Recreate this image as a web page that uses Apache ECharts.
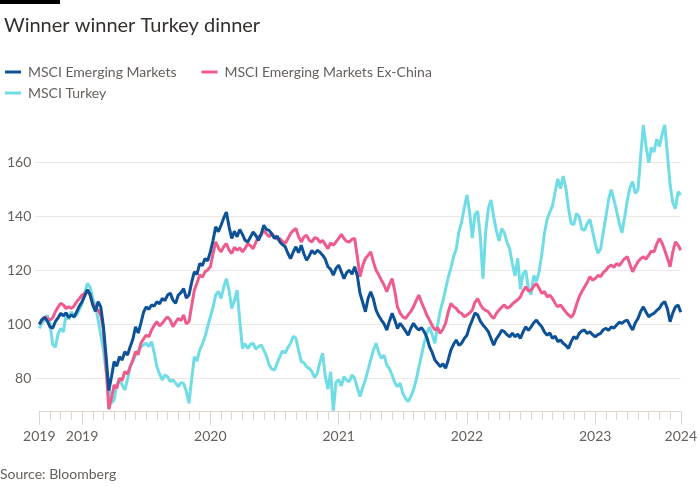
<!DOCTYPE html>
<html>
<head>
<meta charset="utf-8">
<script src="https://cdn.jsdelivr.net/npm/echarts@6/dist/echarts.min.js"></script>
<style>
html,body{margin:0;padding:0;background:#fff;}
#chart{width:700px;height:500px;}
</style>
</head>
<body>
<div id="chart"></div>
<script>
// x positions: months from the first observation, quarter-month steps
const STEP = 0.25;
const yearTickMonths = [0, 4, 16, 28, 40, 52, 60];
const yearTickLabels = ['2019', '2019', '2020', '2021', '2022', '2023', '2024'];
const yTicks = [80, 100, 120, 140, 160];

const emValues = [
100,101.8,102.6,101.2,99.1,98.6,101,102.4,104.1,103.2,104.3,102.6,103.5,102.8,104.7,106.8,108.4,110.6,112.9,111.2,
107.2,104.8,108.4,106.5,99.1,88,75.5,80.5,86.2,84.5,88,86.8,89.9,88.6,91.7,94.5,99.1,96.8,100.4,104.5,
106.5,105.6,107.2,106.8,108.4,107.6,109.6,108.8,110.9,111.6,109,107.8,110.9,111.8,113.3,109.8,110.9,115.6,119.5,118.6,
122.6,121.8,124.4,123.6,126.9,131.2,136.2,134.4,136.8,139.5,141.7,136.2,131.9,134.6,132.5,135.2,133.4,131.2,130.6,132.4,
134.3,133,131.2,133.5,136.8,135.2,134.9,133.5,131.9,132.8,130.6,129.6,128.8,126.4,124.4,126.8,128.8,126.6,129.4,126.2,
123.8,125.4,127.5,126.2,127.5,126.8,125.7,124.2,121.4,120.4,118.3,120.8,122,119.5,117,119.2,120.1,118.6,121.4,118,
111.5,108.2,104.7,109.6,112.1,109.4,105.3,103.2,101.6,100.2,97.9,101.2,104.1,101.6,98.5,100.4,99.1,97.6,96,98.6,
100.4,98.9,97.9,98.8,97.3,95.2,91.7,89.6,86.8,85.6,84.3,85.4,83.7,86.8,90.5,92.6,94.2,92.2,93,94.8,
96,99.2,101.6,104.2,103.5,101.2,99.8,98.6,97.3,94.8,92.3,94.6,96,97.8,97.3,96.2,95.4,96.8,95.4,96.4,
94.8,97.2,99.1,97.8,99.1,100.6,101.6,100.2,99.1,97.2,96,96.8,94.8,95.6,93.6,94.2,93,92.2,91.1,93.6,
95.4,94.6,96.7,97.6,97.9,96.6,97.3,96.2,95.4,96.2,96.7,98,98.5,97.8,99.1,98.6,99.8,100.8,100.4,101.2,
101.6,99.6,97.9,100.6,102.2,104.8,106.5,104.6,102.8,103.6,104.1,105.2,106,107.6,108.5,105.8,101,104.2,106.5,107.2,
104.5];

const emExChinaValues = [
100,101.6,102.8,102.2,101.6,102.4,104.7,106.4,107.8,107.2,105.9,106.6,105.9,106.8,108.4,109.6,110.9,111.4,112.7,110.8,
107.8,106.2,105.3,103.4,97.9,84,68.5,72.6,77.5,76.4,80,79.2,82.5,81.6,84.3,86.8,89.9,88.8,93,94.6,
96,95.4,97.9,99.6,101,99.4,100.4,101.8,102.8,101.6,99.1,100.8,102.2,101.4,103.5,100.2,101,106.8,112.7,115.4,
118.3,117.6,119.5,120.2,121.4,126.2,130.6,128.4,126.9,128.8,130,127.6,126.3,128.6,127.5,128.4,126.9,128.2,130,129.2,
128.1,130.4,132.5,133.2,134.9,133.6,132.5,133.8,132.5,131.6,131.9,130.8,130,131.8,133.7,134.8,135.6,132.6,130.6,132.4,
133.1,131.2,130.6,132.2,131.9,130.4,131.2,129.6,128.1,130.2,129.4,130.6,131.9,133.4,131.9,130.8,130.6,131.6,131.9,125,
117.7,121.8,124.4,125.6,126.9,123.2,120.1,118.4,116.4,114.6,112.1,114.8,117,112.4,106.5,104.2,102.8,102.2,103.5,104.8,
106.5,108.8,110.9,108.2,105.9,103.4,101.6,99.6,97.9,98.8,96.7,98.2,100.4,104.6,107.8,106.6,105.9,104.6,104.1,102.8,
103.5,104.2,105.3,108.2,109.6,107.4,105.9,105.2,104.7,103.2,102.2,104.1,105.3,106.4,107.2,106,106.5,107.6,108.4,109.2,
110.2,112.4,113.9,112.4,112.7,114.2,115.2,113.4,111.5,112.2,110.2,110.8,109.6,107.8,106.5,107.2,105.9,104.6,103.5,102.6,
104.1,107.4,110.2,112.2,113.9,115.6,117.7,116.4,117,118.2,117.7,119.2,120.1,121.4,122,121.2,122.6,121.8,123.2,124.4,
125.1,122.2,119.5,121.6,123.2,124.4,125.1,124.2,125.7,127.2,126.9,129.8,131.9,130.2,127.5,124.6,121.4,126.8,130.6,129.4,
127.5];

const turkeyValues = [
98.5,100.6,101.6,103.4,100.5,92.5,91.5,96.4,98.5,97.2,103.5,101.8,104.7,102.6,103.5,105.6,107.8,111.6,115.2,113.8,
109.6,106.8,101.6,96.2,90.5,82.4,76.9,70.8,72,77.6,80,77.4,75.7,79.6,84.3,86.4,88.6,90.2,91.7,92.4,
93,91.8,93.6,89.4,84.3,81.6,79.4,81.2,80.6,78.8,79.4,78.2,76.9,78.4,78.1,75.2,70.7,79.6,88,86.4,
90.5,92.6,95.4,99.2,102.8,106.4,110.9,112.2,109.6,113.8,117,112.6,105.9,108.8,112.7,101.4,91.1,92.8,91.1,92.6,
93,90.8,91.7,92.4,90.5,88.2,84.9,83.4,83.1,85.6,88,90.2,89.3,91.4,93,95.6,94.8,90.4,86.2,85.8,
84.3,83.6,82.5,80.2,81.9,86,89.3,80.6,76,82.4,68,78.6,79.4,77.2,80.6,79.2,78.8,81.2,80,76.4,
73.2,76.6,79.4,83.2,86.8,90.4,93,89.6,87.4,88.6,84.9,83.6,81.2,78.4,76.9,78.2,74.4,72.6,71.4,73.2,
75.7,79.4,84,88.6,93,96.8,99,96.2,93,99.6,105,108.6,113,117.4,121,125.2,128,134.4,138,143.2,
148,141.6,132,140.8,142,132.6,117,134.2,143,146.2,140,134.8,131,135.6,134,130.4,128,122.4,118,124.6,
113,118.8,120,113.4,111,118.2,116,119.6,126,133.8,139,141.6,144,149.2,154,150.4,155,150.6,143,137.4,
137,141.2,140,135.2,135,137.4,139,134.6,130,126.4,128,134.2,140,146.4,150,146.2,142,137.6,134,139.8,
146,150.8,153,148.6,150,162.4,174,166.2,160,165.6,164,168.8,166,170.4,174,163.2,152,145.2,143,149.2,
148];

const seriesNames = ['MSCI Emerging Markets', 'MSCI Emerging Markets Ex-China', 'MSCI Turkey'];
const seriesColors = ['#0d5196', '#ee5b8c', '#6fdce6'];

const FONT = 'Lato, "Open Sans", sans-serif';
const TEXT_GREY = '#66605c';

function toPairs(values) {
  return values.map((v, i) => [i * STEP, v]);
}

const chart = echarts.init(document.getElementById('chart'), null, {renderer: 'canvas'});

const labelMap = {};
yearTickMonths.forEach((m, i) => { labelMap[m] = yearTickLabels[i]; });

const option = {
  animation: false,
  backgroundColor: '#ffffff',
  textStyle: {fontFamily: FONT},
  title: {
    text: 'Winner winner Turkey dinner',
    left: -1, top: 11,
    textStyle: {fontFamily: FONT, fontSize: 20, fontWeight: 'normal', color: '#33302e'}
  },
  legend: [
    {
      left: 0, top: 60,
      data: [seriesNames[0], seriesNames[1]],
      icon: 'rect', itemWidth: 16, itemHeight: 3, itemGap: 25,
      selectedMode: false,
      textStyle: {fontFamily: FONT, fontSize: 14, color: TEXT_GREY, padding: [0, 0, 0, 2]}
    },
    {
      left: 0, top: 81,
      data: [seriesNames[2]],
      icon: 'rect', itemWidth: 16, itemHeight: 3,
      selectedMode: false,
      textStyle: {fontFamily: FONT, fontSize: 14, color: TEXT_GREY, padding: [0, 0, 0, 2]}
    }
  ],
  grid: {left: 39.3, right: 17, top: 119.6, bottom: 88.3, containLabel: false},
  xAxis: [
    {
      type: 'value', min: 0, max: 60, interval: 1, position: 'bottom',
      axisLine: {show: true, lineStyle: {color: '#ddd4cc', width: 1}},
      axisTick: {show: true, length: 8, lineStyle: {color: '#ddd4cc'}},
      axisLabel: {show: false},
      splitLine: {show: false}
    },
    {
      type: 'value', min: 0, max: 60, position: 'bottom',
      axisLine: {show: false},
      axisTick: {show: true, length: 13, customValues: yearTickMonths, lineStyle: {color: '#ddd4cc'}},
      axisLabel: {
        show: true, customValues: yearTickMonths, margin: 18,
        fontFamily: FONT, fontSize: 14, color: TEXT_GREY,
        formatter: v => labelMap[v] || ''
      },
      splitLine: {show: false}
    }
  ],
  yAxis: {
    type: 'value', min: 67.6, max: 176,
    axisLine: {show: false},
    axisTick: {show: true, length: 4, customValues: yTicks, lineStyle: {color: '#efe8e2'}},
    axisLabel: {show: true, customValues: yTicks, margin: 8, fontFamily: FONT, fontSize: 14, color: TEXT_GREY},
    splitLine: {show: true, lineStyle: {color: '#efe8e2', width: 1}}
  },
  graphic: [
    {type: 'rect', left: 0, top: 0, shape: {width: 60, height: 4}, style: {fill: '#000'}},
    {type: 'text', left: 0, top: 467, style: {text: 'Source: Bloomberg', fontFamily: FONT, fontSize: 14, fill: TEXT_GREY}}
  ],
  series: [
    {
      name: seriesNames[2], type: 'line', data: toPairs(turkeyValues), showSymbol: false,
      lineStyle: {color: seriesColors[2], width: 3}, itemStyle: {color: seriesColors[2]}, z: 2
    },
    {
      name: seriesNames[1], type: 'line', data: toPairs(emExChinaValues), showSymbol: false,
      lineStyle: {color: seriesColors[1], width: 3}, itemStyle: {color: seriesColors[1]}, z: 3
    },
    {
      name: seriesNames[0], type: 'line', data: toPairs(emValues), showSymbol: false,
      lineStyle: {color: seriesColors[0], width: 3}, itemStyle: {color: seriesColors[0]}, z: 4
    }
  ]
};
chart.setOption(option);
</script>
</body>
</html>
